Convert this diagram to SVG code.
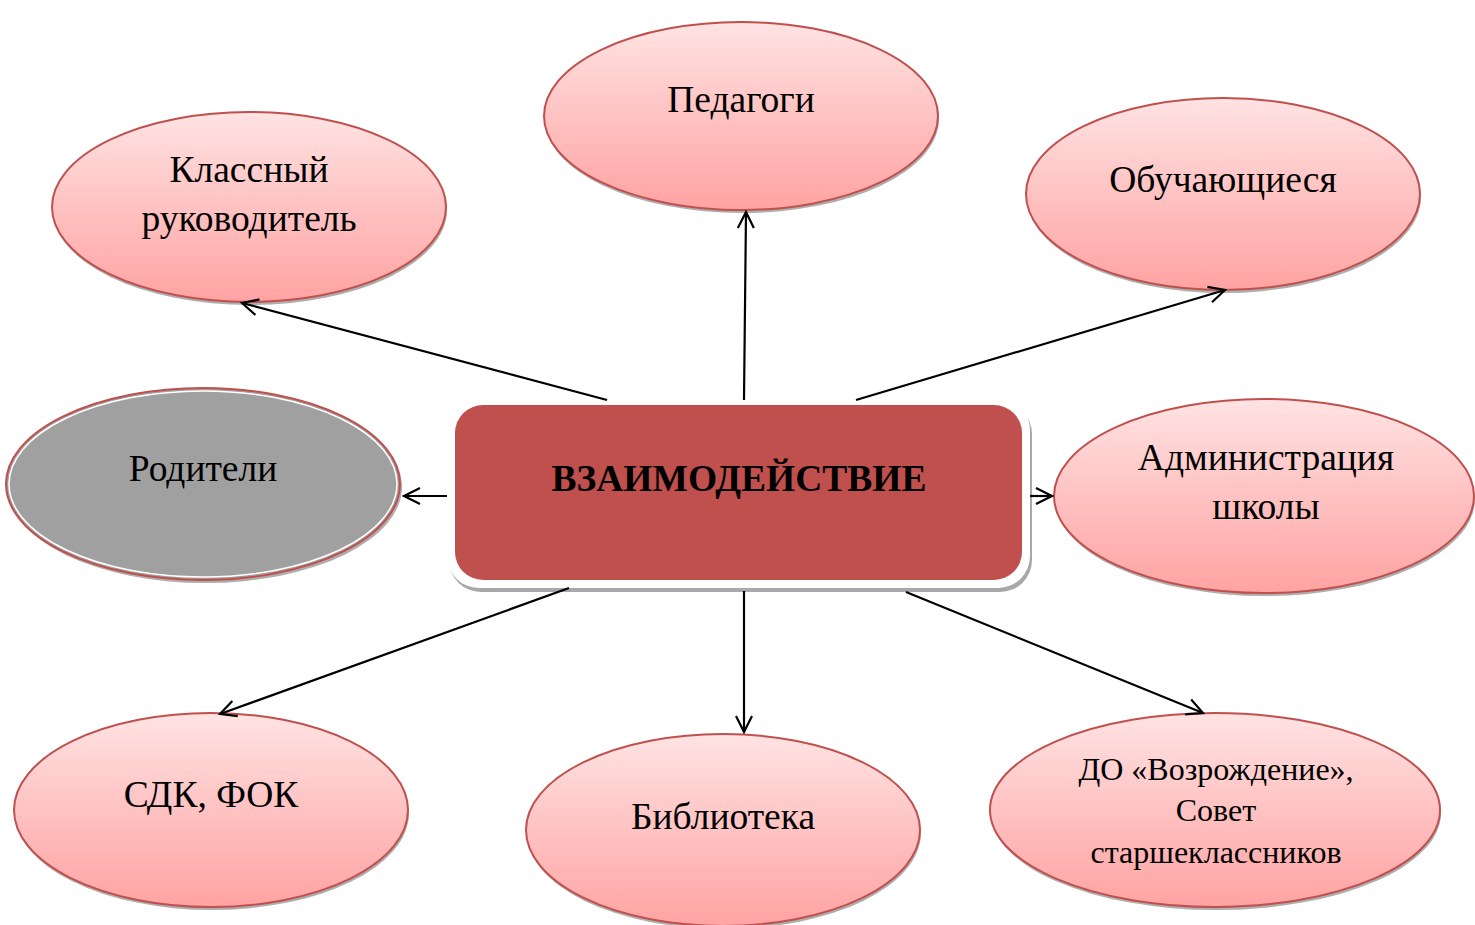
<svg xmlns="http://www.w3.org/2000/svg" width="1475" height="925" viewBox="0 0 1475 925">
<defs>
<linearGradient id="pink" x1="0" y1="0" x2="0" y2="1">
<stop offset="0" stop-color="#ffe3e3"/>
<stop offset="0.5" stop-color="#ffc2c2"/>
<stop offset="1" stop-color="#ffa3a3"/>
</linearGradient>
<marker id="arr" viewBox="0 0 20 20" refX="18" refY="10" markerWidth="20" markerHeight="20" markerUnits="userSpaceOnUse" orient="auto">
<path d="M2,2 L18,10 L2,18" fill="none" stroke="#000" stroke-width="2.2"/>
</marker>
</defs>
<style>
.shadow{fill:#9a9a9a;opacity:0.8}
.node{fill:url(#pink);stroke:#c0504d;stroke-width:2}
.t{font-family:"Liberation Serif","Times New Roman",serif;font-size:37.5px;fill:#000;text-anchor:middle}
.t2{font-family:"Liberation Serif","Times New Roman",serif;font-size:32px;fill:#000;text-anchor:middle}
.c line{stroke:#000;stroke-width:2.2;marker-end:url(#arr)}
</style>
<rect width="1475" height="925" fill="#fff"/>

<g id="center">
<rect x="449" y="402" width="583" height="190" rx="32" fill="#a8a8a8"/>
<rect x="447" y="398" width="583" height="190" rx="32" fill="#fff"/>
<rect x="455" y="405" width="567" height="175" rx="28" fill="#c0504d"/>
<text x="739" y="491" class="t" font-weight="bold">ВЗАИМОДЕЙСТВИЕ</text>
</g>

<g id="pedagogi">
<ellipse cx="742" cy="119" rx="197" ry="94" class="shadow"/>
<ellipse cx="741" cy="116" rx="197" ry="94" class="node"/>
<text x="741" y="112" class="t">Педагоги</text>
</g>

<g id="klassny">
<ellipse cx="250" cy="210" rx="197" ry="95" class="shadow"/>
<ellipse cx="249" cy="207" rx="197" ry="95" class="node"/>
<text x="249" y="182" class="t">Классный</text>
<text x="249" y="231" class="t">руководитель</text>
</g>

<g id="obuch">
<ellipse cx="1224" cy="197" rx="197" ry="96" class="shadow"/>
<ellipse cx="1223" cy="194" rx="197" ry="96" class="node"/>
<text x="1223" y="192" class="t">Обучающиеся</text>
</g>

<g id="roditeli">
<ellipse cx="205" cy="487" rx="197" ry="96" class="shadow"/>
<ellipse cx="203" cy="484" rx="197" ry="96" fill="#a0a0a0" stroke="#c0504d" stroke-width="2"/>
<ellipse cx="203" cy="484" rx="194" ry="93" fill="none" stroke="#fff" stroke-width="1.5"/>
<text x="203" y="481" class="t">Родители</text>
</g>

<g id="admin">
<ellipse cx="1265" cy="499" rx="210" ry="97" class="shadow"/>
<ellipse cx="1264" cy="496" rx="210" ry="97" class="node"/>
<text x="1266" y="470" class="t">Администрация</text>
<text x="1266" y="519" class="t">школы</text>
</g>

<g id="sdk">
<ellipse cx="212" cy="813" rx="197" ry="97" class="shadow"/>
<ellipse cx="211" cy="810" rx="197" ry="97" class="node"/>
<text x="211" y="807" class="t">СДК, ФОК</text>
</g>

<g id="biblio">
<ellipse cx="724" cy="833" rx="197" ry="96" class="shadow"/>
<ellipse cx="723" cy="830" rx="197" ry="96" class="node"/>
<text x="723" y="829" class="t">Библиотека</text>
</g>

<g id="do">
<ellipse cx="1216" cy="813" rx="225" ry="97" class="shadow"/>
<ellipse cx="1215" cy="810" rx="225" ry="97" class="node"/>
<text x="1216" y="780" class="t2">ДО «Возрождение»,</text>
<text x="1216" y="821" class="t2">Совет</text>
<text x="1216" y="863" class="t2">старшеклассников</text>
</g>

<g id="connectors" class="c">
<line x1="607" y1="400" x2="242" y2="303"/>
<line x1="744" y1="400" x2="746" y2="212"/>
<line x1="856" y1="400" x2="1225" y2="290"/>
<line x1="447" y1="496" x2="404" y2="496"/>
<line x1="1030" y1="496" x2="1052" y2="496"/>
<line x1="569" y1="588" x2="220" y2="714"/>
<line x1="744" y1="591" x2="744" y2="732"/>
<line x1="906" y1="592" x2="1203" y2="713"/>
</g>
</svg>
